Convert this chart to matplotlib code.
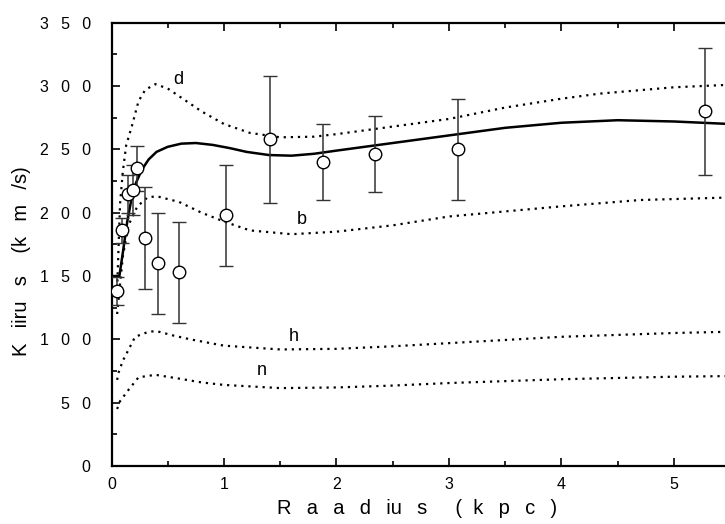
import numpy as np
import matplotlib
matplotlib.use('Agg')
import matplotlib.pyplot as plt

plt.rcParams['font.family'] = ['Liberation Sans', 'DejaVu Sans']

# vaatlusandmed (raadius kpc, kiirus km/s, viga)
obs_r = [0.05, 0.09, 0.15, 0.19, 0.23, 0.30, 0.41, 0.60, 1.02, 1.41, 1.88, 2.34, 3.08, 5.28]
obs_v = [138, 186, 215, 218, 235, 180, 160, 153, 198, 258, 240, 246, 250, 280]
obs_err = [11, 10, 15, 20, 18, 40, 40, 40, 40, 50, 30, 30, 40, 50]

# mudelkõverad
tot_r = [0.02, 0.07, 0.10, 0.14, 0.18, 0.22, 0.27, 0.33, 0.40, 0.50, 0.62, 0.75, 0.90, 1.05, 1.20,
         1.40, 1.60, 1.80, 2.00, 2.50, 3.00, 3.50, 4.00, 4.50, 5.00, 5.50, 6.00]
tot_v = [150, 150, 168, 193, 212, 224, 234, 242, 248, 252, 254.5, 255, 253.5, 251, 248,
         245.5, 245, 246.5, 249, 255, 261, 267, 271, 273, 272, 270, 268]

d_r = [0.05, 0.076, 0.10, 0.13, 0.18, 0.24, 0.30, 0.39, 0.50, 0.65, 0.80, 1.00, 1.23, 1.50,
       1.80, 2.00, 2.50, 3.00, 3.50, 4.00, 4.34, 5.00, 5.50, 6.00]
d_v = [140, 207, 232, 253, 268, 288, 297, 301.5, 298, 289, 280, 270, 263, 259.5,
       260, 262, 268, 274, 283, 290, 294, 299, 301, 302]

b_r = [0.05, 0.10, 0.15, 0.23, 0.32, 0.40, 0.60, 0.80, 1.00, 1.23, 1.60, 2.00, 2.50, 3.00,
       3.50, 4.00, 4.70, 5.50, 6.00]
b_v = [120, 165, 190, 205, 212, 213, 208.5, 200, 193, 186, 183, 185, 190, 197,
       201, 205, 210, 212, 213]

h_r = [0.05, 0.06, 0.10, 0.135, 0.21, 0.33, 0.40, 0.55, 0.70, 1.00, 1.50, 2.00, 2.50, 3.00,
       4.00, 5.00, 5.50, 6.00]
h_v = [68, 73, 83, 89, 102, 106, 106.5, 103, 100, 95, 92, 92.5, 94.5, 97,
       102, 105, 106, 106.5]

n_r = [0.05, 0.075, 0.15, 0.24, 0.39, 0.60, 0.80, 1.00, 1.50, 2.00, 2.50, 3.00, 4.00, 5.00,
       5.50, 6.00]
n_v = [45, 51, 60, 70, 72, 69, 66, 64, 61.5, 62, 63.5, 65.5, 68.5, 70.5, 71, 71.5]

curve_labels = ['d', 'b', 'h', 'n']
label_pos = [(0.59, 305), (1.69, 195), (1.62, 102), (1.34, 75)]

G = '  \u2009'  # laiendatud tähevahe
y_ticks = [0, 50, 100, 150, 200, 250, 300, 350]
y_ticklabels = ['0', '5' + G + '0', '1' + G + '0' + G + '0', '1' + G + '5' + G + '0',
                '2' + G + '0' + G + '0', '2' + G + '5' + G + '0', '3' + G + '0' + G + '0',
                '3' + G + '5' + G + '0']
x_ticks = [0, 1, 2, 3, 4, 5]
x_ticklabels = ['0', '1', '2', '3', '4', '5']
x_title = G.join(['R', 'a', 'a', 'd', 'iu', 's']) + '     (  k' + G + 'p' + G + 'c' + G + ')'
y_title = 'K' + G + 'iiru' + G + 's' + '    (k' + G + 'm' + G + '/s)'

fig = plt.figure(figsize=(7.25, 5.24), dpi=100)
ax = fig.add_axes([0.1538, 0.1107, 0.931, 0.846])

dot = (0, (1, 2.2))
ax.plot(d_r, d_v, color='black', lw=1.6, linestyle=dot)
ax.plot(b_r, b_v, color='black', lw=1.6, linestyle=dot)
ax.plot(h_r, h_v, color='black', lw=1.6, linestyle=dot)
ax.plot(n_r, n_v, color='black', lw=1.6, linestyle=dot)
ax.plot(tot_r, tot_v, color='black', lw=1.8)

ax.errorbar(obs_r, obs_v, yerr=obs_err, fmt='o', color='#333333', ecolor='#333333',
            elinewidth=1.1, capsize=5, capthick=1.1, markersize=9,
            markerfacecolor='white', markeredgecolor='black', markeredgewidth=1.0, zorder=5)

for lab, (x, y) in zip(curve_labels, label_pos):
    ax.text(x, y, lab, fontsize=13, ha='center', va='center')

ax.set_xlim(0, 6)
ax.set_ylim(0, 350)
ax.set_xticks(x_ticks)
ax.set_xticklabels(x_ticklabels, fontsize=11.5)
ax.set_yticks(y_ticks)
ax.set_yticklabels(y_ticklabels, fontsize=11.5)
ax.set_xticks(np.arange(0.5, 6, 1), minor=True)
ax.set_yticks(np.arange(25, 350, 50), minor=True)
ax.tick_params(which='major', direction='in', length=6, width=1.2, top=True, right=False)
ax.tick_params(which='minor', direction='in', length=3.5, width=1.2, top=True, right=False)
ax.tick_params(axis='x', pad=8)
ax.tick_params(axis='y', pad=15)
for s in ['left', 'bottom', 'top']:
    ax.spines[s].set_linewidth(1.6)
ax.spines['right'].set_visible(False)

fig.text(417 / 725, 1 - 508 / 524, x_title, fontsize=14.5, ha='center', va='center')
fig.text(22 / 725, 1 - 261 / 524, y_title, fontsize=14.5, ha='center', va='center', rotation=90)

fig.savefig('out.png', dpi=100)
